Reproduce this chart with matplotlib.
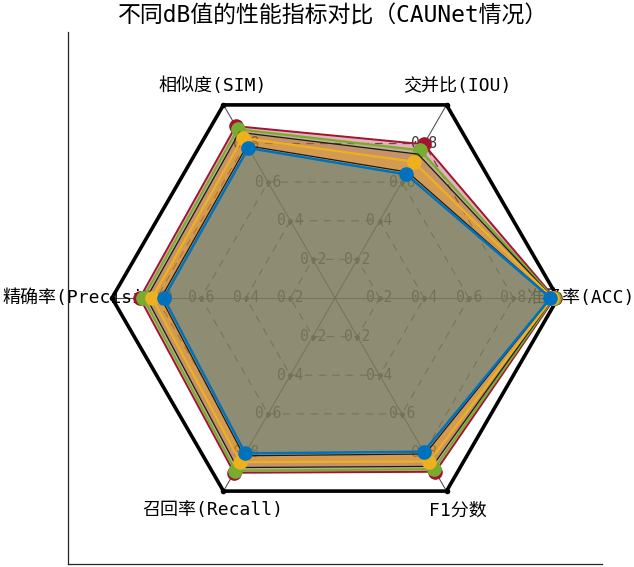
#!/usr/bin/env python3
"""
Radar chart: performance metrics at different dB values (CAUNet)
"""

import matplotlib
matplotlib.use('Agg')
import matplotlib.pyplot as plt
import numpy as np

# monospace latin + CJK fallback, close to the half-width look of the original
plt.rcParams['font.family'] = ['DejaVu Sans Mono', 'Noto Sans CJK SC']

# metric names, counter-clockwise starting from the right
metrics = ['准确率(ACC)', '交并比(IOU)', '相似度(SIM)', '精确率(Precision)', '召回率(Recall)', 'F1分数']
ring_levels = [0.2, 0.4, 0.6, 0.8]

# series values (same order as metrics), outermost first
vals_red = [0.985, 0.796, 0.890, 0.875, 0.905, 0.900]
vals_green = [0.980, 0.765, 0.874, 0.860, 0.894, 0.887]
vals_brown = [0.978, 0.745, 0.858, 0.845, 0.878, 0.872]
vals_yellow = [0.975, 0.706, 0.829, 0.820, 0.850, 0.847]
vals_dark = [0.968, 0.652, 0.789, 0.780, 0.817, 0.808]
vals_blue = [0.966, 0.640, 0.777, 0.768, 0.805, 0.796]


def polar_xy(values):
    ang = np.arange(len(values)) * 2 * np.pi / len(values)
    v = np.asarray(values, dtype=float)
    return v * np.cos(ang), v * np.sin(ang)


def closed(x, y):
    return np.append(x, x[0]), np.append(y, y[0])


def create_radar():
    fig = plt.figure(figsize=(6.34, 5.67), dpi=100)
    ax = fig.add_axes([68 / 634, 3 / 567, 534 / 634, 532 / 567])
    ax.set_xlim(-1.197, 1.197)
    ax.set_ylim(-1.193, 1.193)
    ax.set_xticks([])
    ax.set_yticks([])
    for side in ['top', 'right']:
        ax.spines[side].set_visible(False)
    for side in ['left', 'bottom']:
        ax.spines[side].set_color('#262626')
        ax.spines[side].set_linewidth(0.9)

    n = len(metrics)
    ox, oy = polar_xy([1.0] * n)

    # spokes
    for i in range(n):
        ax.plot([0, ox[i]], [0, oy[i]], color='#555555', lw=0.8, zorder=1)

    # dashed rings + tick labels
    for lev in ring_levels:
        rx, ry = polar_xy([lev] * n)
        cx, cy = closed(rx, ry)
        ax.plot(cx, cy, color='#5a5a5a', lw=0.9, ls=(0, (6, 5)), zorder=1)
        ax.plot(rx, ry, 'o', color='#444444', ms=2.5, zorder=1)
        for i in range(n):
            ax.text(rx[i], ry[i], f'{lev:g}', ha='center', va='center',
                    fontsize=10.5, color='#3a3a3a', zorder=1)

    # outer hexagon
    cx, cy = closed(ox, oy)
    ax.plot(cx, cy, color='black', lw=2.6, zorder=2)
    ax.plot(ox, oy, 'o', color='black', ms=3, zorder=2)

    # axis labels
    lx, ly = polar_xy([1.1] * n)
    for i, name in enumerate(metrics):
        ax.text(lx[i], ly[i], name, ha='center', va='center', fontsize=13,
                color='black', zorder=1)

    # data series: (values, line color, fill color, marker, line width)
    series = [
        (vals_red, '#A2142F', '#A2142F', True, 1.4),
        (vals_green, '#77AC30', '#77AC30', True, 1.6),
        (vals_brown, '#1a1a1a', '#D95319', False, 0.9),
        (vals_yellow, '#EDB120', '#EDB120', True, 1.6),
        (vals_dark, '#1a1a1a', None, False, 0.9),
        (vals_blue, '#0072BD', '#0072BD', True, 1.8),
    ]
    z = 3
    for vals, lc, fc, mk, lw in series:
        x, y = polar_xy(vals)
        px, py = closed(x, y)
        if fc is not None:
            ax.fill(px, py, color=fc, alpha=0.32, lw=0, zorder=z)
        ax.plot(px, py, color=lc, lw=lw, zorder=z + 1,
                marker='o' if mk else None, ms=9.5, markevery=list(range(n)),
                markerfacecolor=lc, markeredgecolor=lc)
        z += 2

    fig.text(333 / 634, 1 - 16 / 567, '不同dB值的性能指标对比（CAUNet情况）',
             ha='center', va='center', fontsize=16.5, color='black')

    fig.savefig('out.png', dpi=100)


if __name__ == '__main__':
    create_radar()
